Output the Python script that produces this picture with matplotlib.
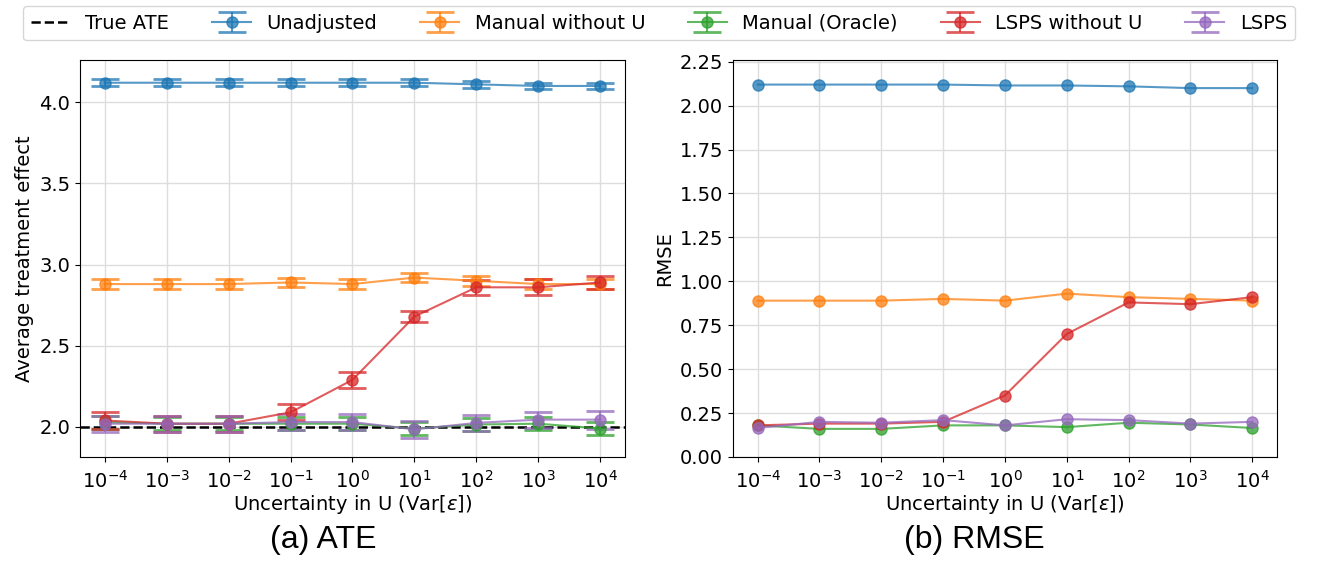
import numpy as np
import matplotlib.pyplot as plt
from matplotlib.ticker import NullLocator

var_eps = [1e-4, 1e-3, 1e-2, 1e-1, 1e0, 1e1, 1e2, 1e3, 1e4]
true_ate = 2.0

labels = ['Unadjusted', 'Manual without U', 'Manual (Oracle)', 'LSPS without U', 'LSPS']
colors = ['C0', 'C1', 'C2', 'C3', 'C4']

# ATE estimates and error bars
ate_unadj = [4.12, 4.12, 4.12, 4.12, 4.12, 4.12, 4.11, 4.10, 4.10]
ate_unadj_err = [0.02, 0.02, 0.02, 0.02, 0.02, 0.02, 0.02, 0.02, 0.02]
ate_manual = [2.88, 2.88, 2.88, 2.89, 2.88, 2.92, 2.90, 2.88, 2.88]
ate_manual_err = [0.03, 0.03, 0.03, 0.03, 0.03, 0.03, 0.03, 0.03, 0.03]
ate_oracle = [2.03, 2.02, 2.02, 2.02, 2.02, 1.99, 2.015, 2.02, 1.99]
ate_oracle_err = [0.04, 0.04, 0.04, 0.04, 0.04, 0.04, 0.04, 0.04, 0.04]
ate_lsps_nou = [2.04, 2.02, 2.02, 2.09, 2.29, 2.68, 2.86, 2.86, 2.89]
ate_lsps_nou_err = [0.05, 0.05, 0.05, 0.05, 0.05, 0.035, 0.045, 0.05, 0.04]
ate_lsps = [2.02, 2.02, 2.02, 2.03, 2.03, 1.985, 2.025, 2.045, 2.045]
ate_lsps_err = [0.05, 0.05, 0.05, 0.05, 0.05, 0.05, 0.05, 0.05, 0.055]

# RMSE
rmse_unadj = [2.12, 2.12, 2.12, 2.12, 2.115, 2.115, 2.11, 2.10, 2.10]
rmse_manual = [0.89, 0.89, 0.89, 0.90, 0.89, 0.93, 0.91, 0.90, 0.89]
rmse_oracle = [0.18, 0.16, 0.16, 0.18, 0.18, 0.17, 0.195, 0.185, 0.165]
rmse_lsps_nou = [0.18, 0.19, 0.19, 0.20, 0.35, 0.70, 0.88, 0.87, 0.91]
rmse_lsps = [0.165, 0.20, 0.195, 0.21, 0.18, 0.215, 0.21, 0.19, 0.20]

ate_vals = [ate_unadj, ate_manual, ate_oracle, ate_lsps_nou, ate_lsps]
ate_errs = [ate_unadj_err, ate_manual_err, ate_oracle_err, ate_lsps_nou_err, ate_lsps_err]
rmse_vals = [rmse_unadj, rmse_manual, rmse_oracle, rmse_lsps_nou, rmse_lsps]

plt.rcParams['font.size'] = 14

fig = plt.figure(figsize=(13.18, 5.66), dpi=100)
ax1 = fig.add_axes([0.0607, 0.1926, 0.4135, 0.7014])
ax2 = fig.add_axes([0.5561, 0.1926, 0.4127, 0.7014])

h_true = ax1.axhline(true_ate, color='k', ls='--', lw=1.8, zorder=1)

handles = [h_true]
for vals, errs, c, lab in zip(ate_vals, ate_errs, colors, labels):
    h = ax1.errorbar(var_eps, vals, yerr=errs, color=c, marker='o', ms=8,
                     capsize=10, capthick=2, lw=1.5, alpha=0.75, label=lab)
    handles.append(h)

for vals, c, lab in zip(rmse_vals, colors, labels):
    ax2.plot(var_eps, vals, color=c, marker='o', ms=8, lw=1.5, alpha=0.75, label=lab)

for ax in (ax1, ax2):
    ax.set_xscale('log')
    ax.set_xticks(var_eps)
    ax.xaxis.set_minor_locator(NullLocator())
    ax.tick_params(axis='x', pad=6)
    ax.grid(True, color='#dddddd', lw=1)
    ax.set_axisbelow(True)
    ax.set_xlabel(r'Uncertainty in U (Var[$\varepsilon$])', labelpad=1)

ax1.set_xlim(10 ** -4.4, 10 ** 4.4)
ax2.set_xlim(10 ** -4.4, 10 ** 4.4)
ax1.set_ylim(1.815, 4.26)
ax1.set_yticks([2.0, 2.5, 3.0, 3.5, 4.0])
ax1.set_ylabel('Average treatment effect')
ax2.set_ylim(0, 2.26)
ax2.set_yticks(np.arange(0, 2.26, 0.25))
ax2.set_ylabel('RMSE')

fig.legend(handles, ['True ATE'] + labels, loc='upper center', ncol=6,
           bbox_to_anchor=(0.5, 1.0), fontsize=14, frameon=True,
           columnspacing=2.2, handlelength=2.0, borderaxespad=0.3)

fig.text(323 / 1318, 0.046, '(a) ATE', ha='center', va='center',
         fontsize=23, family='Liberation Sans')
fig.text(974 / 1318, 0.046, '(b) RMSE', ha='center', va='center',
         fontsize=23, family='Liberation Sans')

fig.savefig('out.png', dpi=100)
